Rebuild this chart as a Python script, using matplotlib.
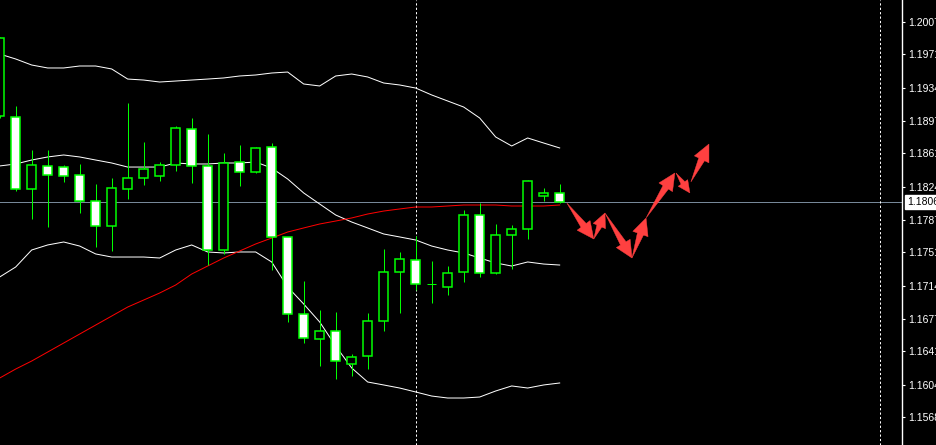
import matplotlib
matplotlib.use("Agg")
import matplotlib.pyplot as plt
from matplotlib.patches import Polygon
import matplotlib.transforms as mtransforms
import numpy as np

# ---- data ----
opens  = [1.19025,1.19014,1.18214,1.18470,1.18458,1.18370,1.18081,1.17803,1.18214,1.18336,
          1.18358,1.18481,1.18881,1.18470,1.17536,1.18514,1.18403,1.18681,1.17681,1.16825,
          1.16547,1.16636,1.16269,1.16358,1.16747,1.17291,1.17425,1.17158,1.17125,1.17291,
          1.17925,1.17280,1.17703,1.17769,1.18136,1.18170]
highs  = [1.19903,1.19136,1.18647,1.18647,1.18481,1.18492,1.18270,1.18336,1.19170,1.18736,
          1.18514,1.18914,1.19003,1.18825,1.18614,1.18703,1.18681,1.18725,1.17681,1.17191,
          1.16869,1.16847,1.16380,1.16836,1.17547,1.17514,1.17692,1.17414,1.17358,1.17981,
          1.18058,1.17825,1.17814,1.18314,1.18225,1.18270]
lows   = [1.19003,1.18192,1.17881,1.17792,1.18292,1.17947,1.17569,1.17525,1.18103,1.18258,
          1.18303,1.18414,1.18281,1.17369,1.17492,1.18247,1.18392,1.17314,1.16736,1.16502,
          1.16247,1.16102,1.16136,1.16213,1.16636,1.16836,1.17091,1.16947,1.17036,1.17180,
          1.17236,1.17269,1.17325,1.17658,1.18081,1.18058]
closes = [1.19892,1.18214,1.18481,1.18370,1.18358,1.18081,1.17803,1.18225,1.18336,1.18436,
          1.18481,1.18892,1.18470,1.17536,1.18503,1.18403,1.18670,1.17681,1.16825,1.16558,
          1.16636,1.16302,1.16347,1.16747,1.17291,1.17436,1.17158,1.17158,1.17280,1.17925,
          1.17280,1.17703,1.17769,1.18303,1.18170,1.18069]

bb_upper = [1.19714,1.19659,1.19592,1.19559,1.19559,1.19581,1.19581,1.19548,1.19436,1.19425,
            1.19403,1.19414,1.19425,1.19436,1.19448,1.19470,1.19481,1.19503,1.19514,1.19381,
            1.19359,1.19470,1.19492,1.19459,1.19392,1.19370,1.19336,1.19259,1.19192,1.19125,
            1.19003,1.18792,1.18692,1.18781,1.18725,1.18670]
bb_mid   = [1.18470,1.18492,1.18536,1.18570,1.18592,1.18570,1.18536,1.18503,1.18458,1.18458,
            1.18458,1.18503,1.18492,1.18492,1.18503,1.18503,1.18514,1.18447,1.18325,1.18170,
            1.18047,1.17925,1.17847,1.17781,1.17714,1.17681,1.17647,1.17580,1.17536,1.17503,
            1.17447,1.17392,1.17358,1.17403,1.17380,1.17369]
bb_lower = [1.17236,1.17347,1.17536,1.17592,1.17625,1.17580,1.17492,1.17458,1.17458,1.17458,
            1.17447,1.17536,1.17592,1.17514,1.17503,1.17514,1.17514,1.17403,1.17125,1.16936,
            1.16736,1.16469,1.16225,1.16069,1.16036,1.16002,1.15958,1.15913,1.15891,1.15891,
            1.15902,1.15969,1.16025,1.16002,1.16036,1.16058]
ma_red   = [1.16113,1.16213,1.16302,1.16402,1.16502,1.16602,1.16702,1.16802,1.16902,1.16980,
            1.17058,1.17147,1.17269,1.17358,1.17447,1.17525,1.17603,1.17669,1.17736,1.17781,
            1.17825,1.17858,1.17892,1.17936,1.17969,1.17992,1.18014,1.18014,1.18025,1.18036,
            1.18036,1.18036,1.18025,1.18025,1.18025,1.18036]

price_ticks = [1.20070,1.19710,1.19340,1.18970,1.18610,1.18240,1.17870,1.17510,
               1.17140,1.16770,1.16410,1.16040,1.15680]
price_labels = ["1.20070","1.19710","1.19340","1.18970","1.18610","1.18240","1.17870",
                "1.17510","1.17140","1.16770","1.16410","1.16040","1.15680"]
current_price = 1.18069
current_label = "1.18069"
vline_bars = [26.0, 55.0]

# forecast arrows: (bar_from, price_from, bar_to, price_to)
arrow_from_x = [35.45, 37.13, 37.83, 39.52, 40.40, 42.27, 43.20]
arrow_from_y = [1.18058, 1.17658, 1.17947, 1.17447, 1.17892, 1.18392, 1.18292]
arrow_to_x   = [37.13, 37.83, 39.52, 40.40, 42.20, 43.14, 44.33]
arrow_to_y   = [1.17658, 1.17947, 1.17447, 1.17892, 1.18392, 1.18170, 1.18714]

# ---- figure ----
W, H = 937, 445
fig = plt.figure(figsize=(W/100, H/100), dpi=100, facecolor="black")
ax = fig.add_axes([0, 0, 902.5/W, 1])
ax.set_facecolor("black")

n = len(opens)
x = list(range(n))
px = 0.72  # one pixel in points

ax.set_xlim(0.02, 902.5/16 + 0.02)
top = 1.203145
bot = 1.203145 - 0.00011114 * 445
ax.set_ylim(bot, top)

ax.plot(x, bb_upper, color="white", lw=px, zorder=2)
ax.plot(x, bb_mid, color="white", lw=px, zorder=2)
ax.plot(x, bb_lower, color="white", lw=px, zorder=2)
ax.plot(x, ma_red, color="#ff0000", lw=px, zorder=2)

ax.axhline(current_price, color="#778899", lw=px, zorder=1)
for vb in vline_bars:
    ax.axvline(vb, color="white", lw=px, ls=(0, (2.2, 2.2)), zorder=1)

green = "#00ff00"
ax.vlines(x, lows, highs, color=green, lw=px, zorder=3)
bw = 0.58
for i in range(n):
    o, c = opens[i], closes[i]
    bottom = min(o, c)
    height = abs(c - o)
    fill = "white" if c < o else "black"
    if height == 0:
        ax.hlines(o, i - bw/2, i + bw/2, color=green, lw=px, zorder=4)
    else:
        ax.bar(i, height, bottom=bottom, width=bw, color=fill, edgecolor=green,
               linewidth=1.1, zorder=4)

# arrows: tapered tail + triangular head, built in display space from data points
tr = ax.transData
inv = tr.inverted()
for xf, yf, xt, yt in zip(arrow_from_x, arrow_from_y, arrow_to_x, arrow_to_y):
    p0 = np.array(tr.transform((xf, yf)))
    p1 = np.array(tr.transform((xt, yt)))
    d = p1 - p0
    L = np.hypot(*d)
    u = d / L
    nrm = np.array([-u[1], u[0]])
    hl = min(17.0, 0.5 * L)
    hw = 0.95 * hl
    tw = 0.4 * hw
    base = p1 - u * hl
    pts = [p0,
           base + nrm * tw / 2,
           base + nrm * hw / 2,
           p1,
           base - nrm * hw / 2,
           base - nrm * tw / 2]
    pts_data = inv.transform(np.array(pts))
    ax.add_patch(Polygon(pts_data, closed=True, facecolor="#ff4040",
                         edgecolor="#ff4040", lw=0.3, zorder=5))

for s in ["left", "top", "bottom"]:
    ax.spines[s].set_visible(False)
ax.spines["right"].set_color("white")
ax.spines["right"].set_linewidth(1.0)
ax.set_xticks([])
ax.yaxis.tick_right()
ax.set_yticks(price_ticks)
ax.set_yticklabels(price_labels)
ax.tick_params(axis="y", direction="out", length=2.3, width=0.8, color="white",
               labelcolor="white", labelsize=7.5, pad=2.0)
for lab in ax.get_yticklabels():
    lab.set_fontfamily("Liberation Sans")

trans = mtransforms.blended_transform_factory(ax.transAxes, ax.transData)
ax.text(1.0 + 5/902.5, current_price, current_label, transform=trans,
        ha="left", va="center", color="black", fontsize=7.5, family="Liberation Sans",
        bbox=dict(boxstyle="square,pad=0.2", facecolor="white", edgecolor="white"),
        clip_on=False, zorder=10)

fig.savefig("out.png", dpi=100, facecolor="black")
